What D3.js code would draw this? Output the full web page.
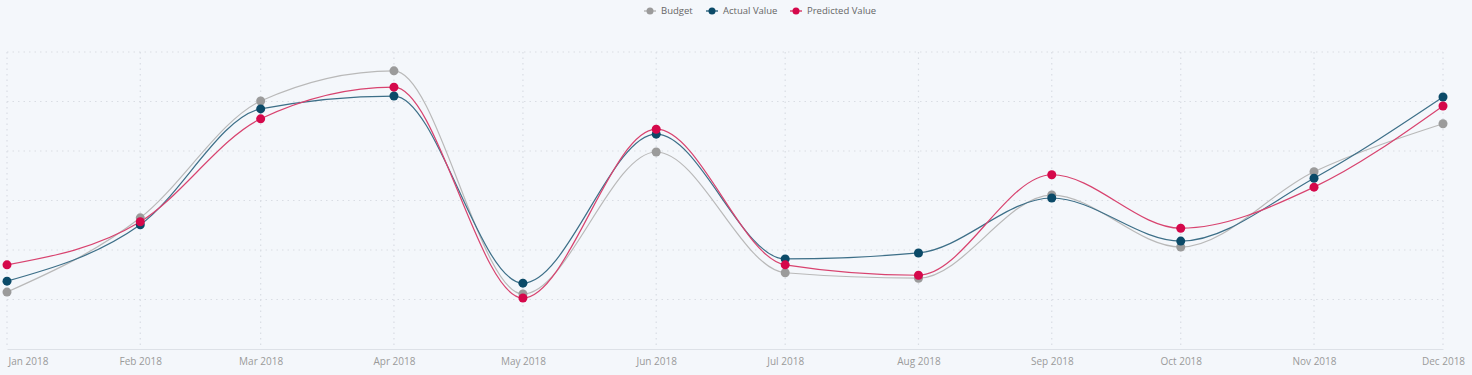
<!DOCTYPE html>
<html>
<head>
<meta charset="utf-8">
<script src="https://cdn.jsdelivr.net/npm/d3@7"></script>
<style>
  html, body { margin: 0; padding: 0; background: #f4f7fb; }
  svg { display: block; font-family: "Open Sans", "Noto Sans", sans-serif; }
</style>
</head>
<body>
<svg id="chart" width="1472" height="375"></svg>
<script>
const months = ["2018-01-01","2018-02-01","2018-03-01","2018-04-01","2018-05-01","2018-06-01",
                "2018-07-01","2018-08-01","2018-09-01","2018-10-01","2018-11-01","2018-12-01"];
const tickLabels = ["Jan 2018","Feb 2018","Mar 2018","Apr 2018","May 2018","Jun 2018",
                    "Jul 2018","Aug 2018","Sep 2018","Oct 2018","Nov 2018","Dec 2018"];
const seriesNames = ["Budget", "Actual Value", "Predicted Value"];
const budget    = [11.5, 26.5, 50.1, 56.2, 11.1, 39.8, 15.4, 14.3, 31.1, 20.6, 35.8, 45.5];
const actual    = [13.7, 25.1, 48.5, 51.1, 13.3, 43.4, 18.2, 19.4, 30.5, 21.8, 34.5, 50.9];
const predicted = [17.0, 25.7, 46.5, 52.9, 10.3, 44.4, 17.0, 14.9, 35.2, 24.4, 32.7, 49.1];
const yTicks = [0, 10, 20, 30, 40, 50, 60];

const colors = ["#9b9b9b", "#0b4a68", "#d5084b"];
const lineColors = ["#b9b9b9", "#3d6f88", "#d8436f"];

const svg = d3.select("#chart");
const parse = d3.utcParse("%Y-%m-%d");
const dates = months.map(parse);

const x = d3.scaleUtc().domain([dates[0], dates[dates.length - 1]]).range([7, 1443]);
const y = d3.scaleLinear().domain([0, 60]).range([349, 52]);

// gridlines
const grid = svg.append("g");
grid.selectAll("line.h").data(yTicks.filter(t => t > 0)).join("line")
  .attr("x1", x.range()[0]).attr("x2", x.range()[1])
  .attr("y1", d => y(d)).attr("y2", d => y(d))
  .attr("stroke", "#d9dde4").attr("stroke-width", 1.2).attr("stroke-dasharray", "1.5,4");
grid.selectAll("line.v").data(dates).join("line")
  .attr("x1", d => x(d)).attr("x2", d => x(d))
  .attr("y1", y(60)).attr("y2", y(0))
  .attr("stroke", "#d9dde4").attr("stroke-width", 1.2).attr("stroke-dasharray", "1.5,4");

// x axis
const xAxis = d3.axisBottom(x).tickValues(dates)
  .tickFormat((d, i) => tickLabels[i]).tickSize(0).tickPadding(9);
const ax = svg.append("g").attr("transform", `translate(0,${y(0)})`).call(xAxis);
ax.select(".domain").attr("stroke", "#dde1e7").attr("stroke-width", 1.2);
ax.selectAll("text").attr("fill", "#9a9a9a").style("font-size", "10px")
  .style("font-family", "'Open Sans', 'Noto Sans', sans-serif");
ax.selectAll(".tick").filter((d, i) => i === 0).select("text").attr("text-anchor", "start").attr("x", 1);

// lines
const data = [budget, actual, predicted];
const line = d3.line().x((d, i) => x(dates[i])).y(d => y(d)).curve(d3.curveMonotoneX);
data.forEach((vals, s) => {
  svg.append("path").datum(vals)
    .attr("d", line).attr("fill", "none")
    .attr("stroke", lineColors[s]).attr("stroke-width", 1.2);
});
data.forEach((vals, s) => {
  svg.append("g").selectAll("circle").data(vals).join("circle")
    .attr("cx", (d, i) => x(dates[i])).attr("cy", d => y(d))
    .attr("r", 4.5).attr("fill", colors[s]);
});

// legend
const legendX = [650, 712, 796];
const lg = svg.append("g");
seriesNames.forEach((name, s) => {
  const g = lg.append("g").attr("transform", `translate(${legendX[s]},11)`);
  g.append("line").attr("x1", -6).attr("x2", 6).attr("y1", 0).attr("y2", 0)
    .attr("stroke", lineColors[s]).attr("stroke-width", 1.5);
  g.append("circle").attr("r", 3.5).attr("fill", colors[s]);
  g.append("text").attr("x", 11).attr("y", 0).attr("dy", "0.35em")
    .attr("fill", "#666").style("font-size", "9.5px").text(name);
});
</script>
</body>
</html>
